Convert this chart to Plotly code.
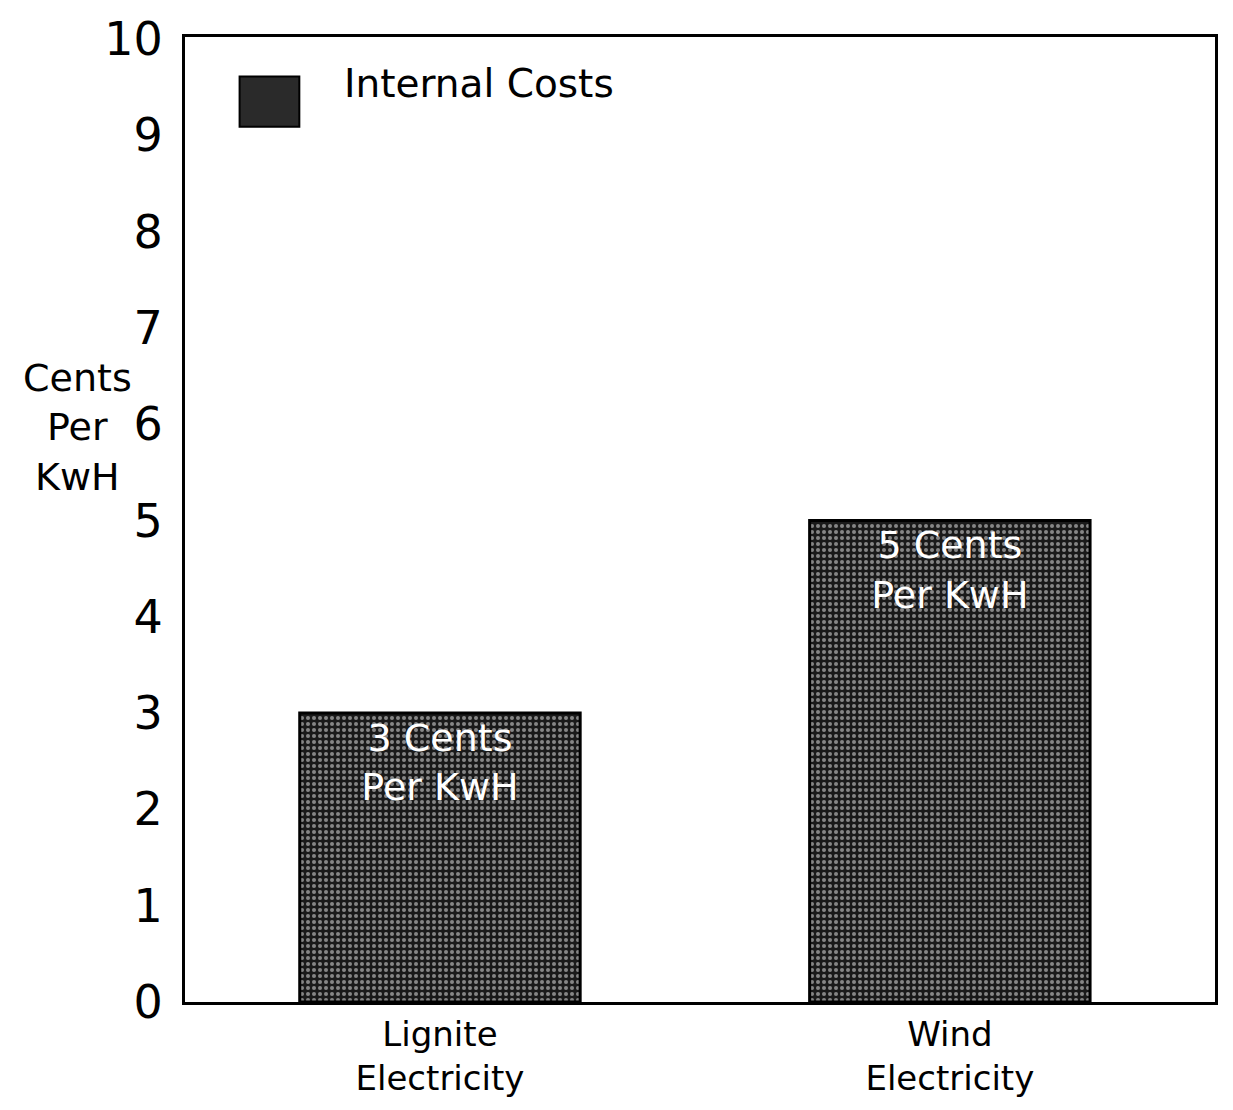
import plotly.graph_objects as go

# Electricity cost comparison (internal costs only)
categories = ["Lignite<br>Electricity", "Wind<br>Electricity"]
cents_per_kwh = [3, 5]
bar_labels = ["3 Cents<br>Per KwH", "5 Cents<br>Per KwH"]
y_ticks = [0, 1, 2, 3, 4, 5, 6, 7, 8, 9, 10]
series_name = "Internal Costs"

FONT = "'DejaVu Sans', sans-serif"

fig = go.Figure()
fig.add_trace(go.Bar(
    x=categories,
    y=cents_per_kwh,
    name=series_name,
    width=0.55,
    text=bar_labels,
    textposition="inside",
    insidetextanchor="end",
    textangle=0,
    textfont=dict(family=FONT, size=38, color="white"),
    marker=dict(
        color="#1a1a1a",
        line=dict(color="black", width=3),
        pattern=dict(shape=".", fgcolor="#f2f2f2", bgcolor="#1a1a1a",
                     size=6, solidity=0.35),
    ),
    showlegend=False,
))

# Legend swatch and label
fig.add_shape(type="rect", xref="paper", yref="paper",
              x0=0.053, x1=0.111, y0=0.907, y1=0.959,
              fillcolor="#2a2a2a", line=dict(color="black", width=2))
fig.add_annotation(xref="paper", yref="paper", x=0.152, y=0.952,
                   text=series_name, showarrow=False, xanchor="left",
                   yanchor="middle",
                   font=dict(family=FONT, size=39, color="black"))

# Vertical axis title, written horizontally
fig.add_annotation(xref="paper", yref="paper", x=-0.104, y=0.595,
                   text="Cents<br>Per<br>KwH", showarrow=False,
                   xanchor="center", yanchor="middle", align="center",
                   font=dict(family=FONT, size=38, color="black"))

fig.update_layout(
    width=1233, height=1110,
    margin=dict(l=185, r=18, t=26, b=94),
    paper_bgcolor="white", plot_bgcolor="white",
    font=dict(family=FONT, color="black"),
    xaxis=dict(
        range=[-0.5, 1.52],
        showline=True, linecolor="black", linewidth=3, mirror=True,
        showgrid=False, ticks="",
        tickfont=dict(family=FONT, size=34, color="black"),
    ),
    yaxis=dict(
        range=[0, 10.02],
        tickvals=y_ticks,
        showline=True, linecolor="black", linewidth=3, mirror=True,
        showgrid=False, zeroline=False, ticks="",
        ticklabelstandoff=10,
        tickfont=dict(family=FONT, size=46, color="black"),
    ),
)

fig.write_html("out.html")
